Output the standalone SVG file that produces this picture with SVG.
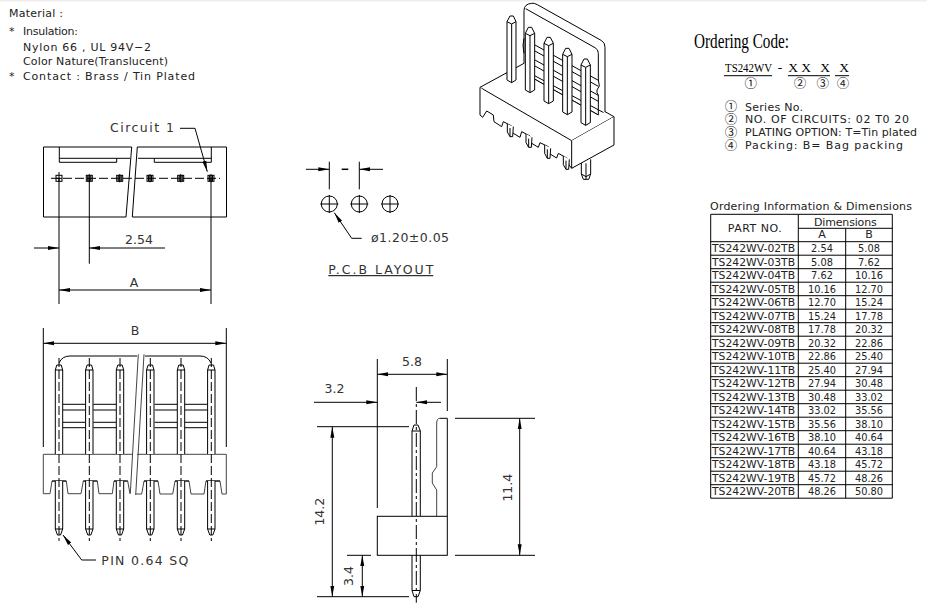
<svg xmlns="http://www.w3.org/2000/svg" width="927" height="605" viewBox="0 0 927 605">
<style>
.l{fill:none;stroke:#000;stroke-width:1}
.g{fill:none;stroke:#444;stroke-width:1}
.w{fill:#fff;stroke:#000;stroke-width:1}
.c{fill:none;stroke:#000;stroke-width:1;stroke-dasharray:9 3}
.cd{fill:none;stroke:#000;stroke-width:1;stroke-dasharray:14 3 3 3}
.da{marker-end:url(#a);marker-start:url(#a)}
.de{marker-end:url(#a)}
text{font-family:"DejaVu Sans","Liberation Sans",sans-serif;fill:#222;font-size:11px}
.m{text-anchor:middle}
.p{font-size:10.8px}
.n{font-size:9.8px;text-anchor:middle}
.d{font-size:12.5px;fill:#333}
.q{font-family:"Noto Sans CJK SC","DejaVu Sans",sans-serif;text-anchor:middle;font-size:12.5px}
.s{font-family:"Liberation Serif",serif;fill:#000;font-size:13.5px}
.t{font-size:20px}
</style>
<defs>
<marker id="a" markerUnits="userSpaceOnUse" markerWidth="12" markerHeight="6" refX="11" refY="3" orient="auto-start-reverse"><path d="M0,1 L11,3 L0,5Z" fill="#000"/></marker>
<g id="hole"><rect class="l" x="-3" y="-3" width="6" height="6"/><path d="M-1.5,-3V3M0,-4V4M1.5,-3V3" fill="none" stroke="#000" stroke-width="1.2"/></g>
<g id="pinv">
<path class="w" d="M-3.7,454V370L-2.2,365H2.2L3.7,370V454"/><path class="l" d="M-3.7,370H3.7"/>
<path class="w" d="M-3.7,481V529L-1.5,535H1.5L3.7,529V481"/><path class="l" d="M-3.7,529H3.7"/>
<path class="c" d="M0,358V541"/>
</g>
</defs>
<rect x="0" y="0" width="927" height="1.5" fill="#eee"/>

<g id="material">
<text x="9" y="17" textLength="54">Material :</text>
<text x="9" y="35">*</text><text x="23" y="35" textLength="55">Insulation:</text>
<text x="23" y="51" textLength="128">Nylon 66 , UL 94V−2</text>
<text x="23" y="65" textLength="145">Color Nature(Translucent)</text>
<text x="9" y="80">*</text><text x="23" y="80" textLength="172">Contact : Brass / Tin Plated</text>
</g>

<g id="top-view">
<path class="l" d="M131.7,147H43.5V217H126M132.3,217H226.5V147H137.3"/>
<path class="l" d="M131.7,147L126,217M137.3,147L132.3,217"/>
<path class="l" d="M59.3,147V162.3H116.7V158.3M59.3,158.3H130M138,158.3H211.3M154.3,158.3V162.3H211.3M211.3,147V162.3"/>
<path class="c" d="M51,178.3H220"/>
<rect class="l" x="56" y="175.3" width="6" height="6"/><path class="l" d="M59,172V182M56,178.3H62"/>
<use href="#hole" x="89.3" y="178.3"/><use href="#hole" x="119.7" y="178.3"/><use href="#hole" x="150" y="178.3"/><use href="#hole" x="180.7" y="178.3"/><use href="#hole" x="211" y="178.3"/>
<path class="l" d="M59,178V304M211,178V304M89.3,178V263.7"/>
<path class="l de" d="M34,248H59"/><path class="l de" d="M165,248H89.3"/>
<path class="l da" d="M59,290H211"/>
<text class="d m" x="139" y="244">2.54</text>
<text class="d m" x="134" y="287">A</text>
<text class="d" x="110" y="132.3" textLength="64">Circuit 1</text>
<path class="l de" d="M180,128.3H195L207.3,171.7"/>
</g>

<g id="front-view">
<path class="l" d="M43.3,328V447M226.3,328V447"/>
<path class="l da" d="M43.3,343.3H226.3"/>
<text class="d m" x="135" y="335">B</text>
<path class="l" d="M59,363Q62,356 70,356H137M145,356H200Q208,356 211,363"/>
<path class="l" d="M62.7,404.3H85.3M93.3,404.3H116.3M154.7,404.3H177.3M184.7,404.3H207.3M62.7,410H85.3M93.3,410H116.3M154.7,410H177.3M184.7,410H207.3M62.7,422.3H85.3M93.3,422.3H116.3M154.7,422.3H177.3M184.7,422.3H207.3M62.7,427.7H85.3M93.3,427.7H116.3M154.7,427.7H177.3M184.7,427.7H207.3"/>
<path class="g" d="M132,454.3H43.3V493.7H50L52,481H66.3L68,493.7H81L83.3,481H97.3L99,493.7H112.3L114,481H127.7L130,494"/>
<path class="g" d="M135.7,494H141.7L144,481H158L160,494H172.7L175,481H189L191,494H204L206,481H220L222,494H226.3V454.3H137"/>
<path class="g" d="M138.3,354.3L130.3,493.3M144,354.3L135.7,495"/>
<path class="l" d="M52,481H66.3M83.3,481H97.3M114,481H127.7M144,481H158M175,481H189M206,481H220"/>
<use href="#pinv" x="59"/><use href="#pinv" x="89.3"/><use href="#pinv" x="120"/><use href="#pinv" x="150.3"/><use href="#pinv" x="181"/><use href="#pinv" x="211.3"/>
<path class="l de" d="M96,560H81.7L63,535"/>
<text class="d" x="101.3" y="565" textLength="87">PIN 0.64 SQ</text>
</g>

<g id="pcb-layout">
<path class="l" d="M329.3,161.7V189.3M359.3,161.7V189.3"/>
<path class="l de" d="M306,169.3H329.3"/><path class="l de" d="M383,169.3H359.3"/>
<path d="M341.7,169.3H348.3" stroke="#000" stroke-width="1.5"/>
<circle class="l" cx="329.3" cy="204" r="8"/><circle class="l" cx="359.3" cy="204" r="8"/><circle class="l" cx="390" cy="204" r="8"/>
<path class="l" d="M320.3,204H338.3M329.3,195V213M350.3,204H368.3M359.3,195V213M381,204H399M390,195V213"/>
<path class="l de" d="M361.7,238.3H351.7L334.3,212.7"/>
<text class="d" x="371" y="242.3" textLength="78">ø1.20±0.05</text>
<text class="d" x="328.3" y="274" textLength="105">P.C.B LAYOUT</text>
<path class="l" d="M328.3,275.7H433.3"/>
</g>

<g id="side-view">
<path class="l" d="M377.3,359V508M447.3,359V411"/>
<path class="l da" d="M377.3,374.3H447.3"/>
<text class="d m" x="412" y="366">5.8</text>
<path class="l de" d="M314,402.3H377.3"/><path class="l de" d="M441,402.3H416.3"/>
<text class="d m" x="334.5" y="393">3.2</text>
<rect class="l" x="377.3" y="516.3" width="70" height="39"/>
<path class="l" d="M412,516V431L414,425H418L420.3,431V516M412,431H420.3M412,555.3V590.5L414,596.7H418L420.3,590.5V555.3M412,590.5H420.3"/>
<path class="g" d="M436.7,516V490L432.3,483V473L436.7,466.7V423Q436.7,418.3 440,418.3"/>
<path class="l" d="M440,418.3H447.3V516"/>
<path class="cd" d="M416.3,387V602.7"/>
<path class="l" d="M317,426.7H409M317,596.7H409M347,555.3H371M455,418.3H535M455,555.3H535"/>
<path class="l da" d="M332.3,426.7V596.7"/>
<path class="l da" d="M362.3,555.3V596.7"/>
<path class="l da" d="M519.7,418.3V555.3"/>
<text class="d m" transform="translate(324,511.7) rotate(-90)">14.2</text>
<text class="d m" transform="translate(353,576) rotate(-90)">3.4</text>
<text class="d m" transform="translate(512,487.7) rotate(-90)">11.4</text>
</g>

<g id="iso-view" transform="translate(460,0) scale(.33333)">
<path d="M192,190V32Q192,12 215,10Q222,8 232,14L425,122Q435,128 435,142V340L192,210Z" fill="#fff" stroke="#000" stroke-width="3"/>
<path d="M197,26L405,143Q415,148 415,160V240L418,258L411,270V278L415,285V345" fill="none" stroke="#000" stroke-width="3"/>
<path d="M192,115Q186,135 192,160" fill="none" stroke="#000" stroke-width="3"/>
<path d="M225,135L415,241M225,153L415,259M225,180L415,286M225,198L415,304M225,238L415,345" fill="none" stroke="#000" stroke-width="3"/>
<path d="M60,262L192,190L225,208L225,238L415,345L435,335L462,350L335,422Z" fill="#fff" stroke="none"/>
<path d="M60,262L192,190M60,262L335,422L462,350L435,335M225,238L415,345" fill="none" stroke="#000" stroke-width="3"/>
<g id="iso-pins" fill="#fff" stroke="#000" stroke-width="3">
<path d="M141,65L150,48H160L168,65V240L155,248L141,240ZM141,65L155,72L168,65M155,72V248"/>
<path d="M196,100L205,82H215L224,100V270L210,278L196,270ZM196,100L210,107L224,100M210,107V278"/>
<path d="M252,130L261,112H271L280,130V303L266,311L252,303ZM252,130L266,137L280,130M266,137V311"/>
<path d="M308,163L317,145H327L336,163V336L322,344L308,336ZM308,163L322,170L336,163M322,170V344"/>
<path d="M363,195L372,177H382L391,195V368L377,376L363,368ZM363,195L377,202L391,195M377,202V376"/>
</g>
<path d="M364,480V522L370,538H386L392,522V478M364,522L378,530L392,522M378,490V538" fill="#fff" stroke="#000" stroke-width="3"/>
<path d="M60,262V345L68,352L80,333L100,345L102,365L125,380L130,365L155,378L157,398L180,412L185,395L210,408L212,428L235,442L240,428L265,440L267,460L290,474L295,460L322,475L327,495L335,505M335,422V505L462,435V350" fill="#fff" stroke="#000" stroke-width="3"/>
<g id="iso-stubs" fill="#fff" stroke="#000" stroke-width="3">
<path d="M142,372V396L150,410H158L160,380M150,384V410"/>
<path d="M198,402V428L206,442H214L216,412M206,416V442"/>
<path d="M254,435V460L262,475H270L272,445M262,448V475"/>
<path d="M310,468V494L318,508H326L328,478M318,482V508"/>
</g>
</g>

<g id="ordering-code">
<text class="s t" x="694" y="48" textLength="95" lengthAdjust="spacingAndGlyphs">Ordering Code:</text>
<text class="s" x="725" y="71.7" textLength="47" lengthAdjust="spacingAndGlyphs">TS242WV</text>
<text class="s m" x="780" y="71.7">-</text>
<text class="s m" x="793" y="71.7">X</text><text class="s m" x="806" y="71.7">X</text><text class="s m" x="825" y="71.7">X</text><text class="s m" x="844" y="71.7">X</text>
<path class="l" d="M724,75.7H772M788,75.7H816M816,75.7H830M835,75.7H849"/>
<text class="q" x="750.7" y="88">①</text><text class="q" x="800" y="88">②</text><text class="q" x="822.7" y="88">③</text><text class="q" x="843" y="88">④</text>
<text class="q" x="731" y="111">①</text><text class="q" x="731" y="123.5">②</text><text class="q" x="731" y="136.5">③</text><text class="q" x="731" y="149.5">④</text>
<text x="745" y="110.7" textLength="58">Series No.</text>
<text x="745" y="122.7" textLength="164">NO. OF CIRCUITS: 02 T0 20</text>
<text x="745" y="135.7" textLength="172">PLATING OPTION: T=Tin plated</text>
<text x="745" y="149" textLength="158">Packing: B= Bag packing</text>
</g>

<g id="table">
<text x="710" y="210" textLength="202">Ordering Information &amp; Dimensions</text>
<path class="l" d="M710.7,214.3H892.3V498.2H710.7ZM798.3,228.3H892.3M710.7,241.7H892.3M798.3,214.3V498.2M845.7,228.3V498.2"/>
<path class="l" d="M710.7,255.2H892.3M710.7,268.7H892.3M710.7,282.2H892.3M710.7,295.7H892.3M710.7,309.2H892.3M710.7,322.7H892.3M710.7,336.2H892.3M710.7,349.7H892.3M710.7,363.2H892.3M710.7,376.7H892.3M710.7,390.2H892.3M710.7,403.7H892.3M710.7,417.2H892.3M710.7,430.7H892.3M710.7,444.2H892.3M710.7,457.7H892.3M710.7,471.2H892.3M710.7,484.7H892.3"/>
<text x="727.7" y="231.7" textLength="54">PART NO.</text>
<text x="814" y="225.5" textLength="62.7">Dimensions</text>
<text class="m" x="822" y="238.3">A</text><text class="m" x="869" y="238.3">B</text>
<text class="p" x="712" y="252">TS242WV-02TB</text><text class="n" x="822" y="252">2.54</text><text class="n" x="869" y="252">5.08</text>
<text class="p" x="712" y="265.5">TS242WV-03TB</text><text class="n" x="822" y="265.5">5.08</text><text class="n" x="869" y="265.5">7.62</text>
<text class="p" x="712" y="279">TS242WV-04TB</text><text class="n" x="822" y="279">7.62</text><text class="n" x="869" y="279">10.16</text>
<text class="p" x="712" y="292.5">TS242WV-05TB</text><text class="n" x="822" y="292.5">10.16</text><text class="n" x="869" y="292.5">12.70</text>
<text class="p" x="712" y="306">TS242WV-06TB</text><text class="n" x="822" y="306">12.70</text><text class="n" x="869" y="306">15.24</text>
<text class="p" x="712" y="319.5">TS242WV-07TB</text><text class="n" x="822" y="319.5">15.24</text><text class="n" x="869" y="319.5">17.78</text>
<text class="p" x="712" y="333">TS242WV-08TB</text><text class="n" x="822" y="333">17.78</text><text class="n" x="869" y="333">20.32</text>
<text class="p" x="712" y="346.5">TS242WV-09TB</text><text class="n" x="822" y="346.5">20.32</text><text class="n" x="869" y="346.5">22.86</text>
<text class="p" x="712" y="360">TS242WV-10TB</text><text class="n" x="822" y="360">22.86</text><text class="n" x="869" y="360">25.40</text>
<text class="p" x="712" y="373.5">TS242WV-11TB</text><text class="n" x="822" y="373.5">25.40</text><text class="n" x="869" y="373.5">27.94</text>
<text class="p" x="712" y="387">TS242WV-12TB</text><text class="n" x="822" y="387">27.94</text><text class="n" x="869" y="387">30.48</text>
<text class="p" x="712" y="400.5">TS242WV-13TB</text><text class="n" x="822" y="400.5">30.48</text><text class="n" x="869" y="400.5">33.02</text>
<text class="p" x="712" y="414">TS242WV-14TB</text><text class="n" x="822" y="414">33.02</text><text class="n" x="869" y="414">35.56</text>
<text class="p" x="712" y="427.5">TS242WV-15TB</text><text class="n" x="822" y="427.5">35.56</text><text class="n" x="869" y="427.5">38.10</text>
<text class="p" x="712" y="441">TS242WV-16TB</text><text class="n" x="822" y="441">38.10</text><text class="n" x="869" y="441">40.64</text>
<text class="p" x="712" y="454.5">TS242WV-17TB</text><text class="n" x="822" y="454.5">40.64</text><text class="n" x="869" y="454.5">43.18</text>
<text class="p" x="712" y="468">TS242WV-18TB</text><text class="n" x="822" y="468">43.18</text><text class="n" x="869" y="468">45.72</text>
<text class="p" x="712" y="481.5">TS242WV-19TB</text><text class="n" x="822" y="481.5">45.72</text><text class="n" x="869" y="481.5">48.26</text>
<text class="p" x="712" y="495">TS242WV-20TB</text><text class="n" x="822" y="495">48.26</text><text class="n" x="869" y="495">50.80</text>
</g>
</svg>
